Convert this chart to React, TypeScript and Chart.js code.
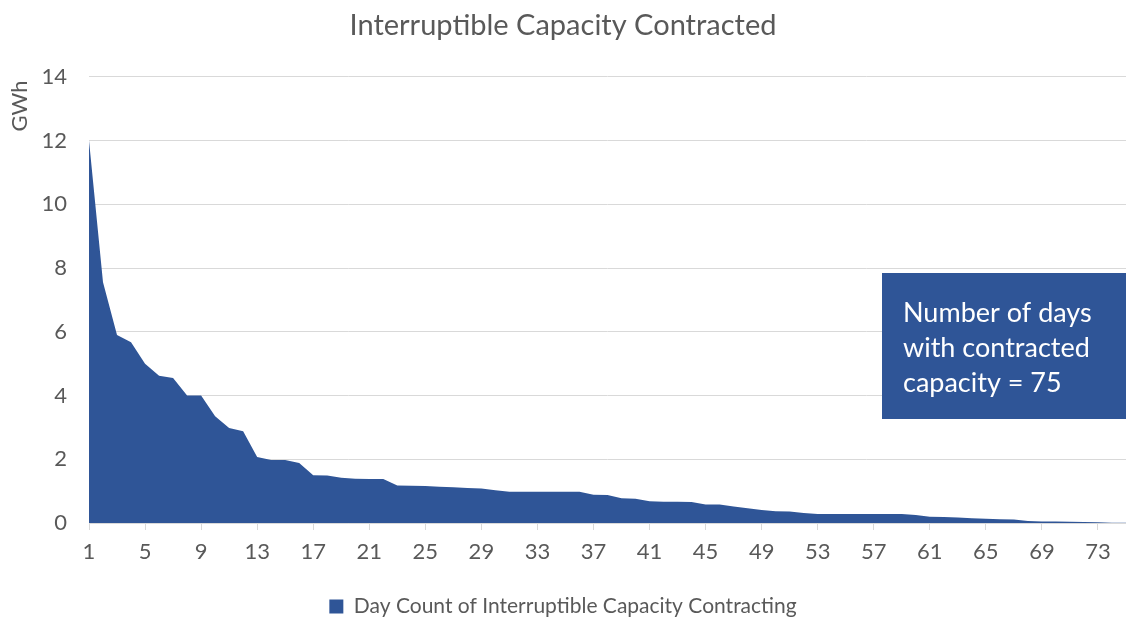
import React, { useEffect, useRef } from "react";
import { Chart, registerables } from "chart.js";

Chart.register(...registerables);

const days: string[] = Array.from({ length: 75 }, (_, i) => String(i + 1));

const capacityGWh: number[] = [
  12.0, 7.55, 5.9, 5.67, 5.0, 4.62, 4.55, 4.0, 4.0, 3.35,
  2.98, 2.88, 2.07, 1.98, 1.98, 1.88, 1.5, 1.49, 1.42, 1.39,
  1.38, 1.38, 1.18, 1.17, 1.16, 1.14, 1.12, 1.1, 1.08, 1.03,
  0.98, 0.98, 0.98, 0.98, 0.98, 0.98, 0.89, 0.88, 0.78, 0.76,
  0.68, 0.67, 0.67, 0.66, 0.58, 0.58, 0.52, 0.46, 0.41, 0.37,
  0.36, 0.31, 0.28, 0.28, 0.28, 0.28, 0.28, 0.28, 0.28, 0.25,
  0.2, 0.19, 0.17, 0.15, 0.13, 0.12, 0.11, 0.06, 0.05, 0.05,
  0.04, 0.03, 0.02, 0.01, 0.01,
];

const titleText = "Interruptible Capacity Contracted";
const seriesName = "Day Count of Interruptible Capacity Contracting";
const yAxisTitle = "GWh";
const noteLines: string[] = ["Number of days", "with contracted", "capacity = 75"];

const FONT = "Lato, 'Open Sans', sans-serif";
const TEXT = "#595959";
const GRID = "#D9D9D9";
const FILL = "#2F5597";

export default function App() {
  const ref = useRef<HTMLCanvasElement | null>(null);

  useEffect(() => {
    if (!ref.current) return;

    const overlay = {
      id: "overlay",
      afterDraw(chart: any) {
        const ctx = chart.ctx;
        ctx.save();
        // y-axis title
        ctx.translate(20, 106);
        ctx.rotate(-Math.PI / 2);
        ctx.font = `22px ${FONT}`;
        ctx.fillStyle = TEXT;
        ctx.textAlign = "center";
        ctx.textBaseline = "middle";
        ctx.fillText(yAxisTitle, 0, 0);
        ctx.restore();

        // note box
        ctx.save();
        ctx.fillStyle = FILL;
        ctx.fillRect(882, 273, 244, 146);
        ctx.fillStyle = "#FFFFFF";
        ctx.font = `27px ${FONT}`;
        ctx.textAlign = "left";
        ctx.textBaseline = "middle";
        noteLines.forEach((l, i) => ctx.fillText(l, 903, 313 + i * 35));
        ctx.restore();
      },
    };

    const chart = new Chart(ref.current, {
      type: "line",
      data: {
        labels: days,
        datasets: [
          {
            label: seriesName,
            data: capacityGWh,
            fill: "origin",
            backgroundColor: FILL,
            borderColor: FILL,
            borderWidth: 0,
            pointRadius: 0,
            tension: 0,
          },
        ],
      },
      options: {
        animation: false,
        responsive: false,
        maintainAspectRatio: false,
        layout: { padding: { left: 0, right: 0, top: 0, bottom: -8 } },
        plugins: {
          title: {
            display: true,
            text: titleText,
            color: TEXT,
            font: { family: FONT, size: 29, weight: "normal" },
            padding: { top: 8, bottom: 34 },
          },
          legend: {
            display: true,
            position: "bottom",
            labels: {
              color: TEXT,
              font: { family: FONT, size: 21 },
              boxWidth: 14,
              boxHeight: 14,
              padding: 4,
            },
          },
          tooltip: { enabled: false },
        },
        scales: {
          x: {
            type: "category",
            offset: false,
            afterFit: (scale: any) => {
              scale.height = 69;
            },
            grid: {
              display: true,
              drawOnChartArea: false,
              drawTicks: true,
              tickLength: 7,
              color: GRID,
            },
            border: { display: true, color: GRID },
            ticks: {
              autoSkip: false,
              maxRotation: 0,
              minRotation: 0,
              color: TEXT,
              font: { family: FONT, size: 22 },
              padding: 9,
              callback: (_v: any, i: number) => (i % 4 === 0 ? days[i] : null),
            },
          },
          y: {
            min: 0,
            max: 14,
            afterFit: (scale: any) => {
              scale.width = 89;
            },
            grid: { color: GRID, drawTicks: false },
            border: { display: false },
            ticks: {
              stepSize: 2,
              color: TEXT,
              font: { family: FONT, size: 22 },
              padding: 22,
            },
          },
        },
      },
      plugins: [overlay],
    });

    return () => chart.destroy();
  }, []);

  return (
    <div style={{ position: "absolute", left: 0, top: 0, width: 1126, height: 619, background: "#fff" }}>
      <canvas ref={ref} width={1126} height={619} style={{ width: 1126, height: 619 }} />
    </div>
  );
}
